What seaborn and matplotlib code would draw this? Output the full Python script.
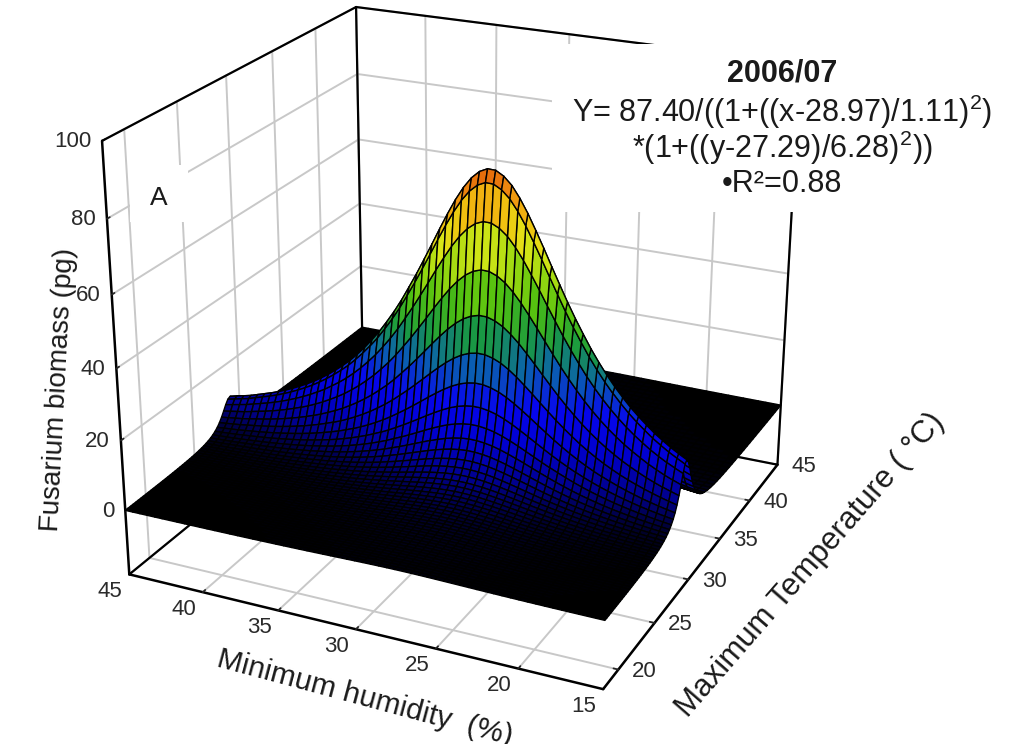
#!/usr/bin/env python3
import numpy as np
import matplotlib
matplotlib.use('Agg')
import matplotlib.pyplot as plt
from matplotlib.patches import Rectangle
from mpl_toolkits.mplot3d import proj3d
import seaborn as sns

# Data =========================================================================

humidity = np.arange(15, 45.5, 0.5)
temperature = np.concatenate([np.arange(18, 32, 0.25), np.arange(32, 45.5, 0.5)])

humidity_profile = [
    .207, .221, .236, .253, .271, .292, .314, .338, .365, .394, .426, .461,
    .499, .541, .585, .632, .682, .733, .785, .835, .883, .925, .960, .984,
    .998, .999, .987, .964, .931, .890, .843, .793, .741, .690, .640, .593,
    .547, .505, .467, .431, .399, .369, .342, .317, .295, .275, .256, .239,
    .223, .209, .196, .184, .173, .163, .154, .146, .138, .130, .124, .118,
    .112,
]
temperature_profile = [
    .0101, .0106, .0111, .0117, .0122, .0129, .0136, .0143, .0151, .0160,
    .0169, .0179, .0190, .0203, .0216, .0231, .0247, .0266, .0286, .0309,
    .0334, .0363, .0396, .0433, .0475, .0524, .0581, .0648, .0725, .0820,
    .0928, .1062, .1226, .1428, .1680, .2000, .2410, .2940, .3630, .4530,
    .5670, .7040, .8480, .9620, .9990, .9400, .8140, .6700, .5370, .4290,
    .3450, .2800, .2300, .1920, .1610, .1380,
    .1180, .0900, .0705, .0567, .0464, .0387, .0327, .0281, .0243, .0213,
    .0187, .0166, .0149, .0134, .0121, .0110, .0100, .0092, .0084, .0078,
    .0072, .0067, .0062, .0058, .0054, .0051, .0048,
]
peak_biomass = 87.4

humidity_ticks = [15, 20, 25, 30, 35, 40, 45]
temperature_ticks = [20, 25, 30, 35, 40, 45]
biomass_ticks = [0, 20, 40, 60, 80, 100]

surface_colors = [
    '#000000', '#00008c', '#0000d0', '#0606ee', '#0a60b0', '#1a9a40',
    '#50c010', '#98d810', '#e0e818', '#f0c010', '#f09010', '#e05808',
]

# Figure =======================================================================

W, H = 1011, 744
ZMIN = -18.6
sns.set_theme(style='whitegrid', rc={'grid.color': '#c8c8c8', 'grid.linewidth': 1.4,
                                     'axes.edgecolor': 'black', 'axes.linewidth': 1.4})
plt.rcParams['font.family'] = ['Liberation Sans', 'DejaVu Sans']
plt.rcParams['mathtext.fontset'] = 'custom'
plt.rcParams['mathtext.rm'] = 'Liberation Sans'
plt.rcParams['mathtext.default'] = 'regular'

fig = plt.figure(figsize=(W / 100, H / 100), dpi=100, facecolor='white')
ax = fig.add_axes([47.2 / W, 6.7 / H, 819.69 / W, 819.69 / H], projection='3d', computed_zorder=False)
ax.set_xlim(45, 15)
ax.set_ylim(18, 45)
ax.set_zlim(ZMIN, 100)
ax.set_box_aspect((1, 0.998, 0.894))
ax.view_init(elev=22.84, azim=-65.02)
ax.set_proj_type('persp', focal_length=0.537)

# Surface: back of the ridge first, then the front, so the crest stays clean
T, Hum = np.meshgrid(temperature, humidity, indexing='ij')
Z = peak_biomass * np.outer(temperature_profile, humidity_profile)
cmap = sns.blend_palette(surface_colors, as_cmap=True)
colors = cmap(Z / peak_biomass)
crest = int(np.argmax(temperature_profile))
for rows, order in ((slice(crest, None), 3), (slice(None, crest + 1), 4)):
    ax.plot_surface(Hum[rows], T[rows], Z[rows], facecolors=colors[rows], rstride=1, cstride=1,
                    shade=False, edgecolor='black', linewidth=1.0, antialiased=True, zorder=order)

# Axes
ax.set_xticks(humidity_ticks)
ax.set_yticks(temperature_ticks)
ax.set_zticks(biomass_ticks)
ax.set_xticklabels([])
ax.set_yticklabels([])
ax.set_zticklabels([])
for axis in (ax.xaxis, ax.yaxis, ax.zaxis):
    axis.set_pane_color((1, 1, 1, 1))
    axis.line.set_color('black')
    axis.line.set_linewidth(1.8)
    axis._axinfo['tick'].update(inward_factor=0.0, outward_factor=0.12)
    axis._axinfo['tick']['color'] = 'black'
ax.zaxis.set_ticks_position('lower')
ax.grid(True)

# Box outline behind the surface
for xs, ys, zs in (
    ((45, 45), (18, 45), (100, 100)),
    ((45, 15), (45, 45), (100, 100)),
    ((45, 45), (45, 45), (ZMIN, 100)),
    ((15, 15), (45, 45), (ZMIN, 100)),
    ((45, 45), (18, 45), (ZMIN, ZMIN)),
    ((45, 15), (45, 45), (ZMIN, ZMIN)),
):
    ax.plot(xs, ys, zs, color='black', linewidth=1.6, zorder=1)


def tick_label(x, y, z, text, dx, dy, ha='center'):
    u, v, _ = proj3d.proj_transform(x, y, z, ax.get_proj())
    ax.annotate(text, xy=(u, v), xycoords='data', xytext=(dx, -dy), textcoords='offset pixels',
                ha=ha, va='center', fontsize=16, color='#2a2a2a', annotation_clip=False)


for h in humidity_ticks:
    tick_label(h, 18, ZMIN, str(h), -19, 17)
for t in temperature_ticks:
    tick_label(15, t, ZMIN, str(t), 26, 2)
for b in biomass_ticks:
    tick_label(45, 18, b, str(b), -11, 1, ha='right')


def px_text(x, y, s, **kw):
    return fig.text(x / W, 1 - y / H, s, ha='center', va='center', color='#1a1a1a', **kw)


fig.add_artist(Rectangle((552 / W, 1 - 212 / H), 459 / W, 168 / H, transform=fig.transFigure,
                         facecolor='white', edgecolor='none', zorder=5))
fig.add_artist(Rectangle((130 / W, 1 - 222 / H), 58 / W, 57 / H, transform=fig.transFigure,
                         facecolor='white', edgecolor='none', zorder=5))
px_text(782, 74, '2006/07', fontsize=22, fontweight='bold', zorder=6)
px_text(782, 112, 'Y= 87.40/((1+((x-28.97)/1.11)$^{2}$)', fontsize=22, zorder=6)
px_text(782, 148, '*(1+((y-27.29)/6.28)$^{2}$))', fontsize=22, zorder=6)
px_text(782, 184, '•R²=0.88', fontsize=22, zorder=6)
px_text(159, 198, 'A', fontsize=19, zorder=6)
px_text(58, 390, 'Fusarium biomass (pg)', fontsize=20, rotation=87, zorder=6)
px_text(365, 698, 'Minimum humidity  (%)', fontsize=21.5, rotation=-15, zorder=6)
px_text(810, 565, 'Maximum Temperature ( °C)', fontsize=22.5, rotation=49, zorder=6)

fig.savefig('out.png', dpi=100)
